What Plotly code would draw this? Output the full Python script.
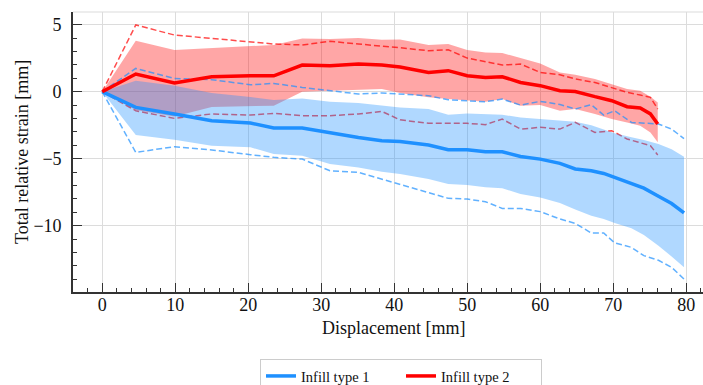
import plotly.graph_objects as go

# Displacement positions [mm] for each infill type
disp_type1 = [0, 4.6, 9.9, 15, 20.3, 23.5, 27.4, 31.2, 35.1, 38.3, 40.8, 44.7, 47.4, 50,
              52.5, 54.8, 57.3, 60, 62.7, 64.8, 67, 68.7, 70.2, 72.5, 74.2, 76.2, 78, 79.7]
disp_type2 = [0, 4.6, 9.9, 15, 20.3, 23.5, 27.4, 31.2, 35.1, 38.3, 40.8, 44.7, 47.4, 50,
              52.5, 54.8, 57.3, 60, 62.7, 64.8, 67.5, 69.8, 71.9, 73.7, 75.1, 76.1]

# Infill type 1: mean, band (upper / lower) and extremes (max / min)
mean_type1 = [0, -1.17, -1.66, -2.16, -2.34, -2.71, -2.71, -3.08, -3.41, -3.66, -3.71, -3.98,
              -4.33, -4.33, -4.48, -4.48, -4.83, -5.03, -5.35, -5.77, -5.9, -6.1, -6.4, -6.8,
              -7.2, -7.8, -8.35, -9.05]
band_hi_type1 = [0, 0.82, 0.45, -0.1, -0.4, -0.62, -0.5, -0.75, -0.85, -1.0, -1.17, -1.29,
                 -1.72, -1.62, -1.66, -1.72, -1.92, -2.04, -2.13, -2.25, -2.5, -2.8, -3.1,
                 -3.4, -3.6, -3.9, -4.3, -4.85]
band_lo_type1 = [0, -3.23, -3.58, -4.03, -4.15, -4.65, -4.78, -5.4, -5.65, -5.97, -6.15, -6.52,
                 -6.89, -6.96, -7.14, -7.21, -7.63, -7.89, -8.3, -8.8, -9.25, -9.5, -9.8,
                 -10.2, -10.7, -11.5, -12.3, -13.11]
max_type1 = [0, 1.74, 0.99, 0.9, 0.52, 0.62, 0.32, 0.07, -0.17, -0.1, -0.17, -0.3, -0.6,
             -0.67, -0.75, -0.55, -1.0, -0.72, -0.95, -1.29, -0.97, -1.75, -1.42, -2.29,
             -2.36, -2.41, -2.79, -3.5]
min_type1 = [0, -4.53, -4.1, -4.35, -4.7, -4.9, -5.03, -5.9, -6.02, -6.52, -6.89, -7.51,
             -7.96, -8.01, -8.21, -8.71, -8.71, -8.95, -9.5, -9.83, -10.55, -10.55, -11.28,
             -11.62, -12.24, -12.58, -13.11, -13.98]

# Infill type 2: mean, band (upper / lower) and extremes (max / min)
mean_type2 = [0, 1.32, 0.65, 1.12, 1.19, 1.19, 1.99, 1.94, 2.06, 1.99, 1.85, 1.44, 1.57, 1.19,
              1.07, 1.12, 0.69, 0.45, 0.07, 0.02, -0.37, -0.67, -1.12, -1.22, -1.66, -2.41]
band_hi_type2 = [0, 3.8, 3.11, 3.25, 3.38, 3.49, 3.98, 3.93, 4.0, 3.88, 3.9, 3.49, 3.56, 3.11,
                 2.93, 2.89, 2.51, 2.11, 1.44, 1.27, 0.95, 0.57, 0.2, 0.07, -0.37, -0.8]
band_lo_type2 = [0, -1.37, -1.85, -1.15, -1.1, -1.04, 0, 0.07, 0.15, 0.2, -0.1, -0.42, -0.55,
                 -0.67, -0.75, -0.55, -1.04, -1.0, -1.42, -1.29, -1.66, -2.04, -2.29, -2.54,
                 -3.04, -3.78]
max_type2 = [0, 4.98, 4.23, 3.98, 3.76, 3.56, 3.49, 3.76, 3.56, 3.43, 3.28, 3.06, 3.13, 2.51,
             2.26, 1.99, 2.06, 1.44, 1.27, 0.95, 0.69, 0.28, -0.05, -0.25, -0.42, -1.29]
min_type2 = [0, -1.42, -1.99, -1.66, -1.74, -1.62, -1.79, -1.79, -1.66, -1.47, -2.1, -2.36,
             -2.36, -2.36, -2.46, -2.04, -2.79, -2.66, -2.79, -2.29, -3.04, -2.91, -3.53,
             -3.78, -4.03, -4.72]

x_ticks = [0, 10, 20, 30, 40, 50, 60, 70, 80]
y_ticks = [-10, -5, 0, 5]

BLUE = "#1e90ff"
RED = "#ff0000"
BLUE_FILL = "rgba(30,144,255,0.35)"
RED_FILL = "rgba(255,0,0,0.35)"
BLUE_DASH = "rgba(30,144,255,0.7)"
RED_DASH = "rgba(255,0,0,0.7)"
FONT = "Liberation Serif"


def band(x, hi, lo, color):
    return go.Scatter(x=list(x) + list(x)[::-1], y=list(hi) + list(lo)[::-1],
                      fill="toself", fillcolor=color, mode="lines",
                      line=dict(width=0), showlegend=False, hoverinfo="skip")


def dashed(x, y, color):
    return go.Scatter(x=x, y=y, mode="lines", line=dict(color=color, width=1.5, dash="6px,3px"),
                      showlegend=False, hoverinfo="skip")


fig = go.Figure()
fig.add_trace(band(disp_type2, band_hi_type2, band_lo_type2, RED_FILL))
fig.add_trace(dashed(disp_type2, max_type2, RED_DASH))
fig.add_trace(dashed(disp_type2, min_type2, RED_DASH))
fig.add_trace(band(disp_type1, band_hi_type1, band_lo_type1, BLUE_FILL))
fig.add_trace(dashed(disp_type1, max_type1, BLUE_DASH))
fig.add_trace(dashed(disp_type1, min_type1, BLUE_DASH))
fig.add_trace(go.Scatter(x=disp_type1, y=mean_type1, mode="lines", name="Infill type 1",
                         line=dict(color=BLUE, width=3.5)))
fig.add_trace(go.Scatter(x=disp_type2, y=mean_type2, mode="lines", name="Infill type 2",
                         line=dict(color=RED, width=3.5)))

tick_font = dict(family=FONT, size=18, color="#111111")
axis_common = dict(
    showline=True, linecolor="#333333", linewidth=1.6,
    showgrid=True, gridcolor="#dcdcdc", gridwidth=1,
    zeroline=False, ticks="inside", ticklen=9, tickwidth=1.4, tickcolor="#333333",
)

fig.update_xaxes(range=[-4, 82.3], tickvals=x_ticks, tickfont=tick_font,
                 minor=dict(dtick=2, tick0=0, ticks="inside", ticklen=4.5, tickwidth=1.2,
                            tickcolor="#333333", showgrid=False),
                 ticklabelstandoff=-4, **axis_common)
fig.update_yaxes(range=[-14.95, 5.95], tickvals=y_ticks, tickfont=tick_font,
                 minor=dict(dtick=1, tick0=0, ticks="inside", ticklen=4.5, tickwidth=1.2,
                            tickcolor="#333333", showgrid=False),
                 ticklabelstandoff=6, **axis_common)

fig.update_layout(
    width=703, height=385,
    margin=dict(l=73, r=0, t=12, b=93, autoexpand=False),
    plot_bgcolor="white", paper_bgcolor="white",
    font=dict(family=FONT, size=18, color="#111111"),
    legend=dict(orientation="h", x=0.5704, xref="container", xanchor="center",
                y=0.0675, yref="container", yanchor="top", entrywidth=95,
                bordercolor="#cccccc", borderwidth=1, bgcolor="white",
                font=dict(family=FONT, size=14.5, color="#111111")),
    shapes=[dict(type="line", xref="paper", yref="paper", x0=0, x1=1, y0=1, y1=1,
                 line=dict(color="#dcdcdc", width=1.2))],
    annotations=[
        dict(text="Displacement [mm]", xref="paper", yref="paper", x=0.5095, y=-0.128,
             xanchor="center", yanchor="middle", showarrow=False,
             font=dict(family=FONT, size=18, color="#111111")),
        dict(text="Total relative strain [mm]", xref="paper", yref="paper", x=-0.081, y=0.5,
             xanchor="center", yanchor="middle", textangle=-90, showarrow=False,
             font=dict(family=FONT, size=18, color="#111111")),
    ],
)

fig.write_html("out.html")
